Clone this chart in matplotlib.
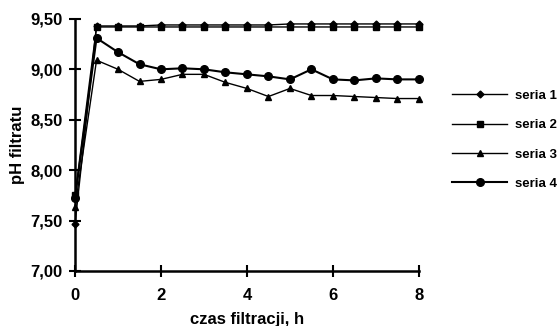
import matplotlib
matplotlib.use("Agg")
import matplotlib.pyplot as plt
from matplotlib.ticker import FuncFormatter

plt.rcParams['font.family'] = ['Liberation Sans', 'DejaVu Sans']
plt.rcParams['font.weight'] = 'bold'

time_h = [0, 0.5, 1, 1.5, 2, 2.5, 3, 3.5, 4, 4.5, 5, 5.5, 6, 6.5, 7, 7.5, 8]
seria1 = [7.47, 9.43, 9.43, 9.43, 9.44, 9.44, 9.44, 9.44, 9.44, 9.44, 9.45, 9.45, 9.45, 9.45, 9.45, 9.45, 9.45]
seria2 = [7.75, 9.42, 9.42, 9.42, 9.42, 9.42, 9.42, 9.42, 9.42, 9.42, 9.42, 9.42, 9.42, 9.42, 9.42, 9.42, 9.42]
seria3 = [7.63, 9.09, 9.00, 8.88, 8.90, 8.95, 8.95, 8.87, 8.81, 8.73, 8.81, 8.74, 8.74, 8.73, 8.72, 8.71, 8.71]
seria4 = [7.72, 9.31, 9.17, 9.05, 9.00, 9.01, 9.00, 8.97, 8.95, 8.93, 8.90, 9.00, 8.90, 8.89, 8.91, 8.90, 8.90]
labels = ['seria 1', 'seria 2', 'seria 3', 'seria 4']

fig = plt.figure(figsize=(5.6, 3.26), dpi=100)
ax = fig.add_axes([0.134, 0.169, 0.614, 0.773])

ax.plot(time_h, seria1, color='black', lw=1.0, marker='D', ms=3.5, label=labels[0])
ax.plot(time_h, seria2, color='black', lw=1.0, marker='s', ms=5, label=labels[1])
ax.plot(time_h, seria3, color='black', lw=1.0, marker='^', ms=5, label=labels[2])
ax.plot(time_h, seria4, color='black', lw=1.5, marker='o', ms=5.5, label=labels[3])

ax.set_xlim(0, 8)
ax.set_ylim(7.0, 9.5)
ax.set_xticks([0, 2, 4, 6, 8])
ax.set_yticks([7.0, 7.5, 8.0, 8.5, 9.0, 9.5])
ax.yaxis.set_major_formatter(FuncFormatter(lambda v, p: f"{v:.2f}".replace('.', ',')))
for s in ['top', 'right']:
    ax.spines[s].set_visible(False)
for s in ['left', 'bottom']:
    ax.spines[s].set_linewidth(1.8)
ax.tick_params(direction='inout', length=8, width=1.5, labelsize=12)
ax.tick_params(axis='x', pad=8)
ax.tick_params(axis='y', pad=5)
for t in ax.get_xticklabels() + ax.get_yticklabels():
    t.set_fontweight('bold')
for ln in ax.lines:
    ln.set_clip_on(False)

ax.set_xlabel('czas filtracji, h', fontsize=12, fontweight='bold')
ax.set_ylabel('pH filtratu', fontsize=12, fontweight='bold')
ax.xaxis.set_label_coords(0.5, -0.163)
ax.yaxis.set_label_coords(-0.145, 0.5)

leg = ax.legend(loc='center left', bbox_to_anchor=(1.062, 0.52), frameon=False,
                handlelength=4.2, handletextpad=0.55, labelspacing=1.3,
                prop={'weight': 'bold', 'size': 9.5})

fig.savefig('out.png', dpi=100)
